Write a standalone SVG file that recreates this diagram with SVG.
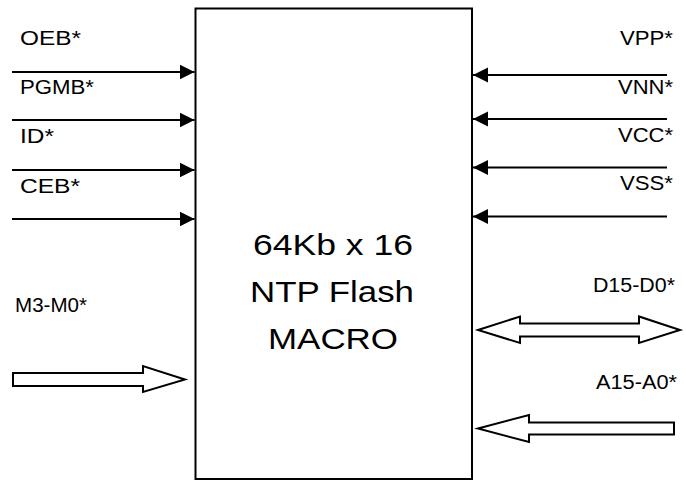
<svg xmlns="http://www.w3.org/2000/svg" width="686" height="481" viewBox="0 0 686 481">
  <style>
    .lbl { font-family: "Liberation Sans", Arial, sans-serif; font-size: 19.5px; fill: #000; }
    .big { font-family: "Liberation Sans", Arial, sans-serif; font-size: 29.5px; fill: #000; }
    .wire { stroke: #000; stroke-width: 2; fill: none; }
    .bus { stroke: #000; stroke-width: 2; fill: #fff; stroke-linejoin: miter; }
  </style>
  <defs>
    <marker id="head" markerUnits="userSpaceOnUse" markerWidth="16" markerHeight="16" viewBox="0 0 16 16" refX="15" refY="8" orient="auto">
      <path d="M0,0.5 L15,8 L0,15.5 Z" fill="#000"/>
    </marker>
  </defs>

  <rect width="686" height="481" fill="#fff"/>

  <g id="macro">
    <rect x="195.5" y="8.5" width="276.5" height="470.5" fill="#fff" stroke="#000" stroke-width="2"/>
    <text class="big" x="333" y="254.5" text-anchor="middle" textLength="160" lengthAdjust="spacingAndGlyphs">64Kb x 16</text>
    <text class="big" x="332" y="301.5" text-anchor="middle" textLength="164" lengthAdjust="spacingAndGlyphs">NTP Flash</text>
    <text class="big" x="333" y="349" text-anchor="middle" textLength="130" lengthAdjust="spacingAndGlyphs">MACRO</text>
  </g>

  <g id="connectors">
    <line class="wire" x1="12" y1="72" x2="194.5" y2="72" marker-end="url(#head)"/>
    <line class="wire" x1="12" y1="120" x2="194.5" y2="120" marker-end="url(#head)"/>
    <line class="wire" x1="12" y1="170" x2="194.5" y2="170" marker-end="url(#head)"/>
    <line class="wire" x1="12" y1="219" x2="194.5" y2="219" marker-end="url(#head)"/>
    <line class="wire" x1="667" y1="75" x2="473" y2="75" marker-end="url(#head)"/>
    <line class="wire" x1="667" y1="119" x2="473" y2="119" marker-end="url(#head)"/>
    <line class="wire" x1="667" y1="167.5" x2="473" y2="167.5" marker-end="url(#head)"/>
    <line class="wire" x1="667" y1="216.5" x2="473" y2="216.5" marker-end="url(#head)"/>
    <polygon class="bus" points="13,373 143,373 143,366 185,379.5 143,392 143,386 13,386"/>
    <polygon class="bus" points="478,330 520,316.5 520,323.5 639,323.5 639,316.5 680,330 639,343 639,336.5 520,336.5 520,343"/>
    <polygon class="bus" points="478,428.5 529,415 529,422.5 674,422.5 674,434.5 529,434.5 529,442"/>
  </g>

  <g id="label-oeb"><text class="lbl" x="20" y="44.5" textLength="61" lengthAdjust="spacingAndGlyphs">OEB*</text></g>
  <g id="label-pgmb"><text class="lbl" x="20" y="94" textLength="74" lengthAdjust="spacingAndGlyphs">PGMB*</text></g>
  <g id="label-id"><text class="lbl" x="20" y="142.5" textLength="34" lengthAdjust="spacingAndGlyphs">ID*</text></g>
  <g id="label-ceb"><text class="lbl" x="20" y="192.5" textLength="60" lengthAdjust="spacingAndGlyphs">CEB*</text></g>

  <g id="label-vpp"><text class="lbl" x="673" y="44.5" text-anchor="end" textLength="53" lengthAdjust="spacingAndGlyphs">VPP*</text></g>
  <g id="label-vnn"><text class="lbl" x="673" y="94" text-anchor="end" textLength="55" lengthAdjust="spacingAndGlyphs">VNN*</text></g>
  <g id="label-vcc"><text class="lbl" x="673" y="141.5" text-anchor="end" textLength="55" lengthAdjust="spacingAndGlyphs">VCC*</text></g>
  <g id="label-vss"><text class="lbl" x="673" y="190" text-anchor="end" textLength="53" lengthAdjust="spacingAndGlyphs">VSS*</text></g>

  <g id="label-m"><text class="lbl" x="15" y="312" textLength="72" lengthAdjust="spacingAndGlyphs">M3-M0*</text></g>
  <g id="label-d"><text class="lbl" x="675" y="291.5" text-anchor="end" textLength="82.1" lengthAdjust="spacingAndGlyphs">D15-D0*</text></g>
  <g id="label-a"><text class="lbl" x="677" y="389" text-anchor="end" textLength="81" lengthAdjust="spacingAndGlyphs">A15-A0*</text></g>
</svg>
